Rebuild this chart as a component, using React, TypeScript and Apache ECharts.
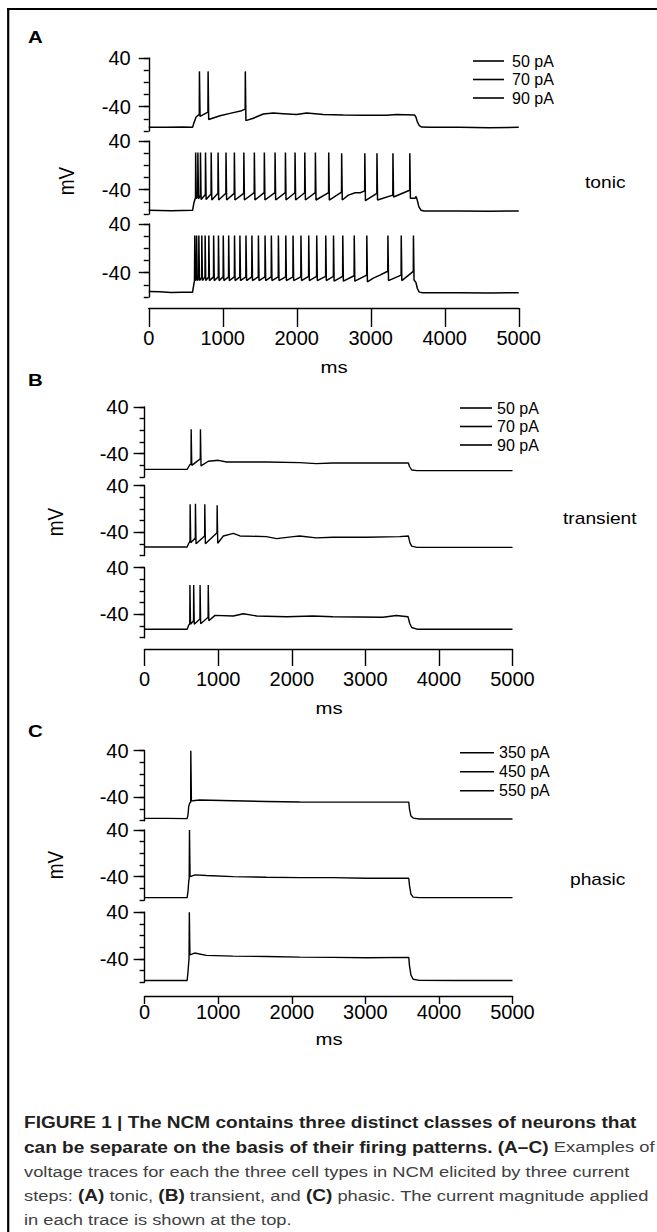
import React, { useEffect, useRef } from "react";
import * as echarts from "echarts";

type Pt = [number, number];
type Spike = [number, number, number, number]; // time ms, pre-spike mV, peak mV, trough mV

// ---------- axis values ----------
const timeTicks = [0, 1000, 2000, 3000, 4000, 5000];
const voltLabelValues = [40, -40];
const voltMin = -80;
const voltMax = 40;

// ---------- legends / labels ----------
const legendA = ["50 pA", "70 pA", "90 pA"];
const legendB = ["50 pA", "70 pA", "90 pA"];
const legendC = ["350 pA", "450 pA", "550 pA"];
const panelLetters = ["A", "B", "C"];
const panelTypes = ["tonic", "transient", "phasic"];

// ---------- Panel A (tonic) ----------
const a50Base: Pt[] = [[0, -74], [250, -74], [450, -73.5], [592, -74], [612, -66], [640, -57], [670, -54], [963, -55], [1098, -51], [1255, -46.6], [1413, -59], [1548, -52], [1683, -50.4], [1818, -51.5], [1998, -53], [2133, -50.4], [2359, -53], [2629, -53.7], [2899, -54], [3214, -54], [3349, -53], [3590, -53.5], [3610, -57], [3630, -65], [3655, -71], [3690, -73.5], [3800, -74], [4200, -74], [4600, -74.5], [5000, -74]];
const a50Spikes: Spike[] = [[683, -53, 18, -56], [800, -49, 18, -61], [1303, -44, 18, -63]];

const a70Base: Pt[] = [[0, -74], [300, -74.5], [592, -74], [610, -62], [626, -55], [2697, -49], [2790, -45], [2860, -45], [3600, -54], [3613, -51], [3630, -58], [3650, -68], [3680, -74], [3720, -75], [4200, -75], [4600, -75.5], [5000, -75]];
const a70Spikes: Spike[] = [[632, -54, 21, -55], [662, -50, 21, -55], [697, -49, 21, -56], [765, -48, 21, -56], [842, -47, 21, -57], [935, -46, 21, -57], [1042, -46, 21, -57], [1155, -46, 21, -57], [1283, -46, 21, -57], [1425, -45, 21, -57], [1560, -45, 21, -57], [1705, -45, 21, -57], [1845, -45, 21, -57], [1975, -45, 21, -57], [2107, -45, 21, -57], [2250, -45, 21, -57], [2430, -45, 21, -57], [2605, -44, 20, -57], [2918, -42, 20, -58], [3082, -46, 20, -57], [3298, -49, 20, -52], [3526, -41, 20, -54]];

const a90Base: Pt[] = [[0, -71], [150, -71.5], [300, -72.5], [450, -72], [592, -72], [608, -60], [618, -53], [3035, -49], [3125, -44], [3215, -38.5], [3610, -56], [3630, -66], [3655, -72], [3700, -73], [4200, -73], [4600, -73.5], [5000, -73]];
const a90Spikes: Spike[] = [[620, -53, 21, -53], [645, -49, 21, -53], [675, -48, 21, -53], [715, -48, 21, -53], [760, -47, 21, -53], [810, -47, 21, -53], [875, -47, 21, -53], [940, -47, 21, -53], [1005, -47, 21, -53], [1078, -47, 21, -53], [1157, -47, 21, -53], [1230, -47, 21, -53], [1312, -47, 21, -53], [1392, -47, 21, -53], [1480, -47, 21, -53], [1570, -47, 21, -53], [1655, -47, 21, -53], [1750, -47, 21, -53], [1850, -47, 21, -53], [1948, -47, 21, -53], [2055, -47, 21, -53], [2160, -46, 21, -53], [2268, -46, 21, -53], [2390, -46, 21, -53], [2495, -46, 21, -54], [2620, -46, 21, -54], [2775, -45, 21, -54], [2945, -44, 21, -55], [3230, -38, 21, -53], [3410, -44, 21, -53], [3575, -38, 21, -52]];

// ---------- Panel B (transient) ----------
const b50Base: Pt[] = [[0, -67], [300, -67], [578, -67], [600, -62], [615, -59], [866, -53], [1002, -51.4], [1115, -54.3], [1300, -54], [1654, -54.3], [2107, -55.4], [2333, -57], [2560, -56], [3013, -56], [3466, -56], [3585, -56], [3600, -62], [3630, -68], [3700, -69], [4200, -69], [5000, -69]];
const b50Spikes: Spike[] = [[631, -58, 2, -60], [757, -49, 2, -61]];

const b70Base: Pt[] = [[0, -65.5], [300, -65.5], [578, -65.5], [600, -59], [610, -57], [1070, -46.5], [1206, -42], [1296, -46.5], [1654, -47.6], [1795, -51], [2020, -47.6], [2107, -46.5], [2333, -49.7], [2560, -48.6], [3013, -48.6], [3466, -47.6], [3585, -46.5], [3605, -58], [3630, -64], [3700, -66], [4200, -66], [5000, -66]];
const b70Spikes: Spike[] = [[617, -55, 8, -58], [689, -50, 8.5, -60], [816, -46.5, 8, -60], [984, -41, 6, -59]];

const b90Base: Pt[] = [[0, -65.5], [300, -65.5], [578, -65.5], [598, -59], [608, -57], [957, -41.7], [1206, -42.8], [1342, -38.9], [1523, -42.8], [1930, -44], [2288, -42.8], [2560, -44], [3240, -45], [3421, -42], [3580, -44], [3605, -56], [3630, -62.5], [3700, -65.4], [4200, -65.5], [5000, -65.5]];
const b90Spikes: Spike[] = [[614, -56, 10.5, -57], [665, -51, 10.5, -57], [752, -48, 10.5, -56], [863, -45, 10.5, -51]];

// ---------- Panel C (phasic) ----------
const c350Base: Pt[] = [[0, -76], [300, -76], [578, -76.5], [590, -70], [600, -55], [615, -49], [653, -45.8], [748, -44.6], [1201, -45.8], [1654, -47], [2107, -48], [2560, -48.1], [3013, -48.1], [3590, -48.1], [3600, -60], [3620, -72], [3650, -75.5], [3738, -77], [4200, -77], [5000, -77]];
const c350Spikes: Spike[] = [[626, -49, 40, -46]];

const c450Base: Pt[] = [[0, -76], [300, -76], [578, -76], [590, -65], [600, -48], [606, -43], [687, -37], [839, -38], [1201, -40], [1654, -41], [2107, -41.7], [2560, -41.7], [3013, -42.8], [3590, -42.8], [3600, -55], [3620, -70], [3650, -75], [3738, -76], [4200, -76], [5000, -76]];
const c450Spikes: Spike[] = [[608, -43, 40, -40]];

const c550Base: Pt[] = [[0, -77], [300, -77], [578, -77], [590, -62], [600, -45], [604, -40], [680, -30], [839, -34], [1201, -35.3], [1654, -36], [2107, -37], [2560, -37.5], [3013, -38], [3590, -37.5], [3600, -52], [3620, -68], [3650, -75], [3738, -76.8], [4200, -77], [5000, -77]];
const c550Spikes: Spike[] = [[606, -40, 40, -33]];

// ---------- caption ----------
const captionLines = [
  "{b|FIGURE 1 | The NCM contains three distinct classes of neurons that}",
  "{b|can be separate on the basis of their firing patterns. (A–C)}{r| Examples of}",
  "{r|voltage traces for each the three cell types in NCM elicited by three current}",
  "{r|steps: }{b|(A)}{r| tonic, }{b|(B)}{r| transient, and }{b|(C)}{r| phasic. The current magnitude applied}",
  "{r|in each trace is shown at the top.}",
];

function buildTrace(base: Pt[], spikes: Spike[]): Pt[] {
  const pts: Pt[] = base.map((p) => [p[0], p[1]] as Pt);
  spikes.forEach(([t, pre, peak, trough]) => {
    pts.push([t, pre], [t + 2, peak], [t + 10, trough]);
  });
  return pts.sort((a, b) => a[0] - b[0]);
}

const FONT = "Liberation Sans, Arial, Helvetica, sans-serif";

const panels = [
  {
    names: legendA,
    traces: [buildTrace(a50Base, a50Spikes), buildTrace(a70Base, a70Spikes), buildTrace(a90Base, a90Spikes)],
    left: 148.75, width: 370, tops: [58, 141, 224], height: 73,
    xOffset: 11, xTick: 19, xMargin: 20, yMargin: 18, yMajor: 10, lineW: 1.5,
    legendLeft: 473, legendTop: 51.75, legendW: 31, legendLH: 18.5, legendPad: 3,
  },
  {
    names: legendB,
    traces: [buildTrace(b50Base, b50Spikes), buildTrace(b70Base, b70Spikes), buildTrace(b90Base, b90Spikes)],
    left: 144.6, width: 367.9, tops: [407, 485.5, 567.7], height: 70,
    xOffset: 11.3, xTick: 17, xMargin: 20, yMargin: 16, yMajor: 11, lineW: 1.4,
    legendLeft: 460, legendTop: 398.75, legendW: 32, legendLH: 18.5, legendPad: 0,
  },
  {
    names: legendC,
    traces: [buildTrace(c350Base, c350Spikes), buildTrace(c450Base, c450Spikes), buildTrace(c550Base, c550Spikes)],
    left: 144.6, width: 367.9, tops: [750.7, 830, 912.2], height: 70,
    xOffset: 13.8, xTick: 8, xMargin: 6, yMargin: 16, yMajor: 11, lineW: 1.4,
    legendLeft: 460, legendTop: 743.2, legendW: 34, legendLH: 19, legendPad: 0,
  },
];

function buildOption() {
  const grids: any[] = [];
  const xAxes: any[] = [];
  const yAxes: any[] = [];
  const series: any[] = [];
  const legends: any[] = [];
  const axisColor = "#000";

  panels.forEach((p) => {
    p.tops.forEach((top, si) => {
      const g = grids.length;
      grids.push({ left: p.left, top, width: p.width, height: p.height, containLabel: false, outerBoundsMode: "none" });
      const isBottom = si === p.tops.length - 1;
      if (isBottom) {
        xAxes.push({
          gridIndex: g, type: "value", min: timeTicks[0], max: timeTicks[timeTicks.length - 1],
          interval: timeTicks[1] - timeTicks[0], position: "bottom", offset: p.xOffset,
          axisLine: { show: true, onZero: false, lineStyle: { color: axisColor, width: 1.4 } },
          axisTick: { show: true, length: p.xTick, lineStyle: { color: axisColor, width: 1.4 } },
          axisLabel: { show: true, fontSize: 20, color: "#000", fontFamily: FONT, margin: p.xMargin, showMinLabel: true, showMaxLabel: true, formatter: (v: number) => String(v) },
          splitLine: { show: false },
        });
      } else {
        xAxes.push({ gridIndex: g, type: "value", min: 0, max: 5000, show: false, axisLine: { onZero: false } });
      }
      // major y axis (line, long ticks, labels)
      yAxes.push({
        gridIndex: g, type: "value", min: voltMin, max: voltMax, position: "left",
        axisLine: { show: true, onZero: false, lineStyle: { color: axisColor, width: 1.4 } },
        axisTick: { show: true, length: p.yMajor, customValues: voltLabelValues, lineStyle: { color: axisColor, width: 1.4 } },
        axisLabel: { show: true, customValues: voltLabelValues, fontSize: 20, color: "#000", fontFamily: FONT, margin: p.yMargin, formatter: (v: number) => String(v) },
        splitLine: { show: false },
      });
      // minor y ticks every 20 mV
      yAxes.push({
        gridIndex: g, type: "value", min: voltMin, max: voltMax, interval: 20, position: "left",
        axisLine: { show: false, onZero: false },
        axisTick: { show: true, length: 5, lineStyle: { color: axisColor, width: 1.4 } },
        axisLabel: { show: false },
        splitLine: { show: false },
      });
      series.push({
        type: "line", name: p.names[si], xAxisIndex: g, yAxisIndex: g * 2,
        data: p.traces[si], showSymbol: false, symbol: "none", silent: true,
        lineStyle: { color: "#000", width: p.lineW }, itemStyle: { color: "#000" },
        animation: false,
      });
    });
    legends.push({
      data: p.names, orient: "vertical", left: p.legendLeft, top: p.legendTop,
      icon: "rect", itemWidth: p.legendW, itemHeight: 1.6, itemGap: 0, padding: 0,
      selectedMode: false,
      textStyle: { fontSize: 16, fontFamily: FONT, color: "#000", lineHeight: p.legendLH, padding: [0, 0, 0, p.legendPad] },
    });
  });

  const txt = (text: string, x: number, y: number, size: number, opts: any = {}) => ({
    type: "text", x, y, scaleX: opts.scaleX ?? 1, scaleY: opts.scaleY ?? 1, rotation: opts.rotation ?? 0, silent: true,
    style: {
      text, fontSize: size, fontFamily: FONT, fontWeight: opts.bold ? "bold" : "normal", fill: opts.fill ?? "#000",
      align: opts.align ?? "left", verticalAlign: "middle", textAlign: opts.align ?? "left", textVerticalAlign: "middle",
    },
  });

  const elements: any[] = [
    { type: "line", silent: true, shape: { x1: 7, y1: 9, x2: 657, y2: 9 }, style: { stroke: "#000", lineWidth: 2.2 } },
    { type: "line", silent: true, shape: { x1: 8.2, y1: 8, x2: 8.2, y2: 1232 }, style: { stroke: "#000", lineWidth: 2.2 } },
  ];
  const letterY = [37, 380, 731];
  const typePos = [[585, 183], [563, 519], [570, 880]];
  const mvPos = [[66, 181], [55, 522], [55, 865]];
  const msPos = [[334, 367], [329, 708], [329, 1039]];
  panelLetters.forEach((l, i) => {
    elements.push(txt(l, 28, letterY[i], 17, { bold: true, scaleX: 1.2 }));
    elements.push(txt(panelTypes[i], typePos[i][0], typePos[i][1], 16, { scaleX: 1.2 }));
    elements.push(txt("mV", mvPos[i][0], mvPos[i][1], 19, { rotation: Math.PI / 2, scaleY: 1.2, align: "center" }));
    elements.push(txt("ms", msPos[i][0], msPos[i][1], 17, { scaleX: 1.2, align: "center" }));
  });
  captionLines.forEach((line, i) => {
    elements.push({
      type: "text", x: 24, y: 1123 + i * 24.3, scaleX: 1.19, silent: true,
      style: {
        text: line, verticalAlign: "middle", textVerticalAlign: "middle", fontFamily: FONT,
        rich: {
          b: { fontWeight: "bold", fontSize: 16, fontFamily: FONT, fill: "#231f20", color: "#231f20" },
          r: { fontWeight: "normal", fontSize: 15.4, fontFamily: FONT, fill: "#404040", color: "#404040" },
        },
      },
    });
  });

  return {
    animation: false,
    backgroundColor: "#fff",
    grid: grids,
    xAxis: xAxes,
    yAxis: yAxes,
    legend: legends,
    series,
    graphic: { elements },
  };
}

export default function App() {
  const ref = useRef<HTMLDivElement>(null);
  useEffect(() => {
    if (!ref.current) return;
    const chart = echarts.init(ref.current, undefined, { renderer: "svg" });
    chart.setOption(buildOption() as any);
    return () => chart.dispose();
  }, []);
  return <div ref={ref} style={{ position: "absolute", left: 0, top: 0, width: 657, height: 1232 }} />;
}
